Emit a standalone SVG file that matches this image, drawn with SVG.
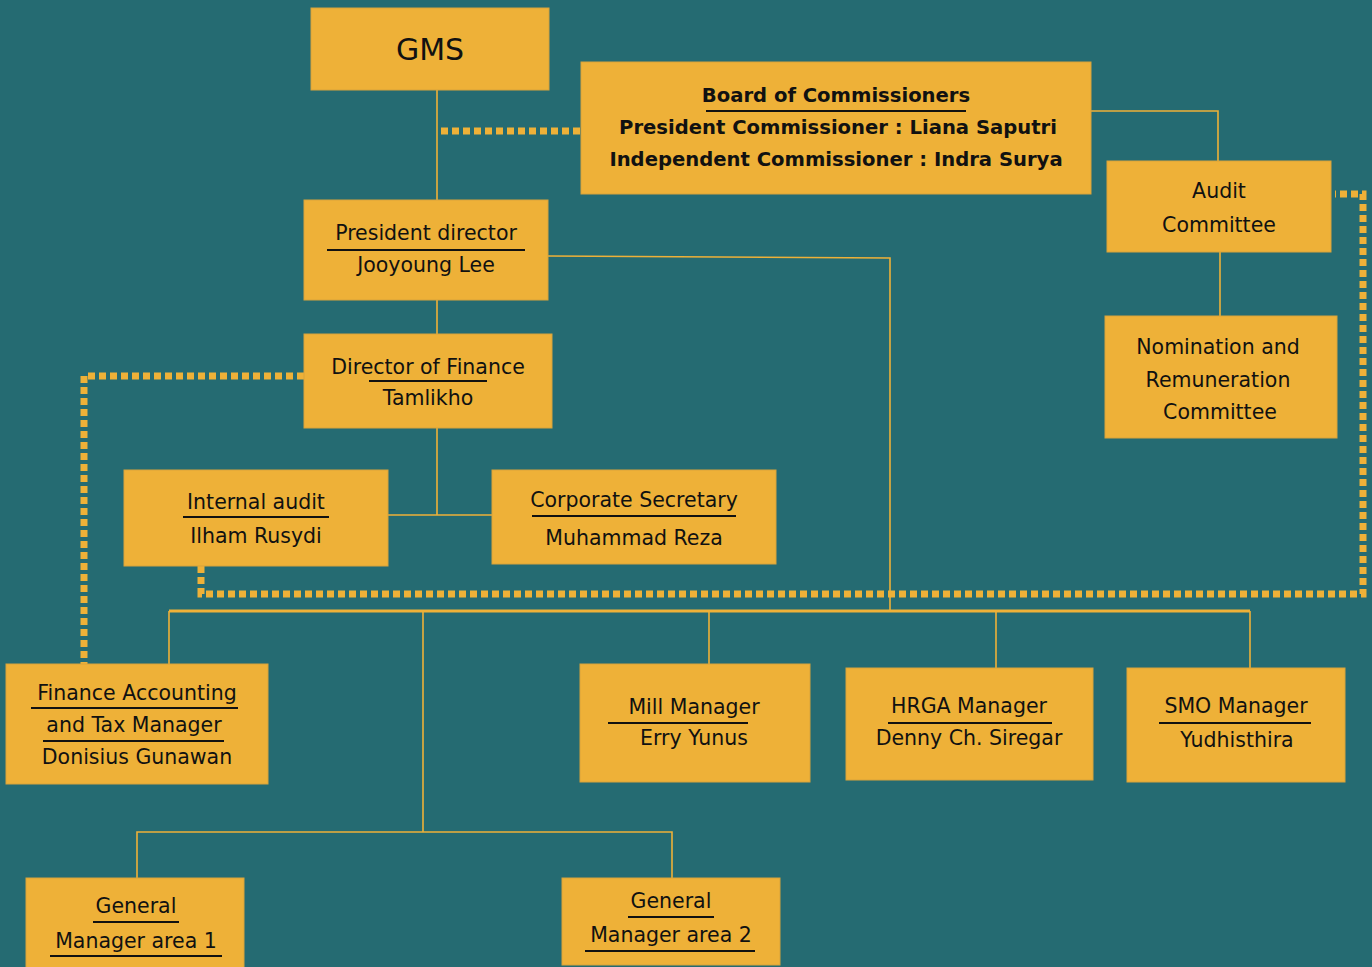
<svg xmlns="http://www.w3.org/2000/svg" width="1372" height="967" viewBox="0 0 1372 967">
<style>
.box{fill:#eeb138;stroke:#d9a33a;stroke-width:1}
.t{font-family:"DejaVu Sans","Liberation Sans",sans-serif;font-size:20.5px;fill:#111;text-anchor:middle;dominant-baseline:central}
.b{font-weight:bold;font-size:19.6px}
.u{stroke:#111;stroke-width:2}
.ln{fill:none;stroke:#eeb138;stroke-width:1.6}
.bus{fill:none;stroke:#eeb138;stroke-width:3}
.dot{fill:none;stroke:#eeb138;stroke-width:7;stroke-dasharray:7 4}
</style>
<rect width="1372" height="967" fill="#256b72"/>
<g id="connectors">
<path class="ln" d="M437 90V200M437 300V334M437 428V515M388 515H492"/>
<path class="ln" d="M1091 111H1218V161M1220 252V316"/>
<path class="ln" d="M548 256L890 258V611"/>
<path class="bus" d="M169 611H1250"/>
<path class="ln" d="M169 611V664M423 611V832M709 611V664M996 611V668M1250 611V668"/>
<path class="ln" d="M137 878V832H672V878"/>
<path class="dot" d="M441 131H581"/>
<path class="dot" d="M304 376H84V664"/>
<path class="dot" d="M201 566V594H1363V194H1335"/>
</g>
<g id="gms"><rect class="box" x="311" y="8" width="238" height="82"/><text class="t" x="430" y="49" style="font-size:30px">GMS</text></g>
<g id="boc"><rect class="box" x="581" y="62" width="510" height="132"/>
<text class="t b" x="836" y="95">Board of Commissioners</text><line class="u" x1="706" y1="111" x2="966" y2="111"/>
<text class="t b" x="838" y="127">President Commissioner : Liana Saputri</text>
<text class="t b" x="836" y="159">Independent Commissioner : Indra Surya</text></g>
<g id="audit"><rect class="box" x="1107" y="161" width="224" height="91"/><text class="t" x="1219" y="191">Audit</text><text class="t" x="1219" y="225">Committee</text></g>
<g id="nomination"><rect class="box" x="1105" y="316" width="232" height="122"/><text class="t" x="1218" y="347">Nomination and</text><text class="t" x="1218" y="380">Remuneration</text><text class="t" x="1220" y="412">Committee</text></g>
<g id="president"><rect class="box" x="304" y="200" width="244" height="100"/><text class="t" x="426" y="233">President director</text><line class="u" x1="327" y1="250" x2="525" y2="250"/><text class="t" x="426" y="265">Jooyoung Lee</text></g>
<g id="finance-director"><rect class="box" x="304" y="334" width="248" height="94"/><text class="t" x="428" y="367">Director of Finance</text><line class="u" x1="369" y1="381" x2="487" y2="381"/><text class="t" x="428" y="398">Tamlikho</text></g>
<g id="internal-audit"><rect class="box" x="124" y="470" width="264" height="96"/><text class="t" x="256" y="502">Internal audit</text><line class="u" x1="183" y1="517" x2="329" y2="517"/><text class="t" x="256" y="536">Ilham Rusydi</text></g>
<g id="corp-sec"><rect class="box" x="492" y="470" width="284" height="94"/><text class="t" x="634" y="500">Corporate Secretary</text><line class="u" x1="532" y1="516" x2="736" y2="516"/><text class="t" x="634" y="538">Muhammad Reza</text></g>
<g id="fat"><rect class="box" x="6" y="664" width="262" height="120"/><text class="t" x="137" y="693">Finance Accounting</text><line class="u" x1="31" y1="708" x2="238" y2="708"/><text class="t" x="134" y="725">and Tax Manager</text><line class="u" x1="43" y1="741" x2="224" y2="741"/><text class="t" x="137" y="757">Donisius Gunawan</text></g>
<g id="mill"><rect class="box" x="580" y="664" width="230" height="118"/><text class="t" x="694" y="707">Mill Manager</text><line class="u" x1="608" y1="723" x2="748" y2="723"/><text class="t" x="694" y="738">Erry Yunus</text></g>
<g id="hrga"><rect class="box" x="846" y="668" width="247" height="112"/><text class="t" x="969" y="706">HRGA Manager</text><line class="u" x1="888" y1="723" x2="1052" y2="723"/><text class="t" x="969" y="738">Denny Ch. Siregar</text></g>
<g id="smo"><rect class="box" x="1127" y="668" width="218" height="114"/><text class="t" x="1236" y="706">SMO Manager</text><line class="u" x1="1159" y1="723" x2="1311" y2="723"/><text class="t" x="1237" y="740">Yudhisthira</text></g>
<g id="gm1"><rect class="box" x="26" y="878" width="218" height="95"/><text class="t" x="136" y="906">General</text><line class="u" x1="93" y1="922" x2="179" y2="922"/><text class="t" x="136" y="941">Manager area 1</text><line class="u" x1="50" y1="956" x2="222" y2="956"/></g>
<g id="gm2"><rect class="box" x="562" y="878" width="218" height="87"/><text class="t" x="671" y="901">General</text><line class="u" x1="628" y1="917" x2="714" y2="917"/><text class="t" x="671" y="935">Manager area 2</text><line class="u" x1="585" y1="951" x2="755" y2="951"/></g>
</svg>
